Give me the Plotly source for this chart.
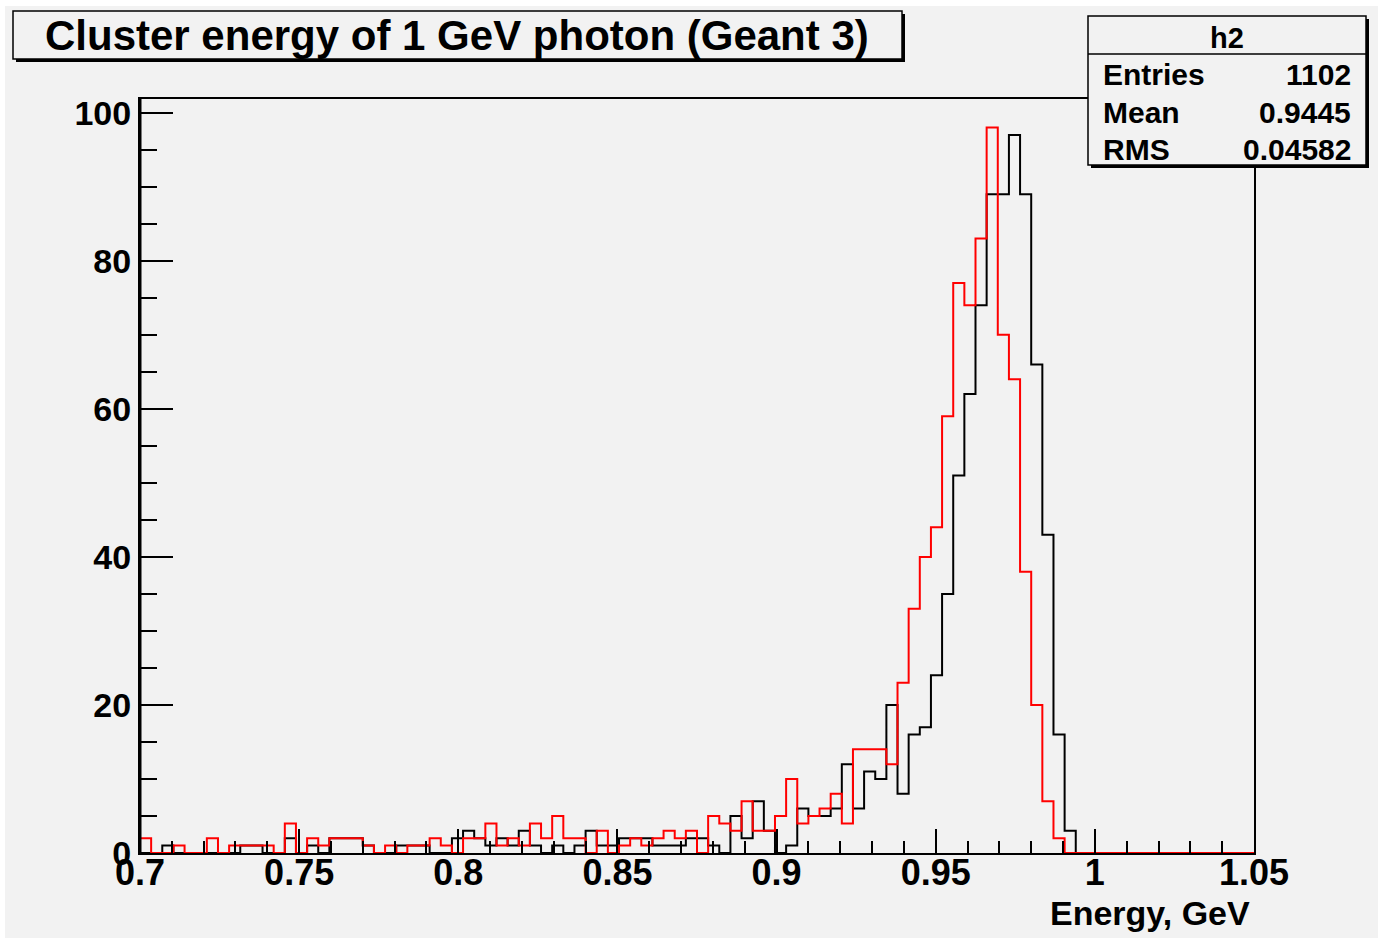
import numpy as np
import plotly.graph_objects as go

# ---- data ----
x_min, x_max, n_bins = 0.7, 1.05, 100

black_counts = [
    0, 0, 1, 0, 0, 0, 0, 0, 0, 1,
    1, 0, 0, 2, 0, 1, 0, 2, 2, 2,
    1, 0, 0, 1, 1, 1, 0, 0, 2, 3,
    2, 1, 2, 1, 3, 1, 0, 1, 0, 1,
    3, 1, 1, 2, 2, 2, 1, 1, 1, 2,
    2, 1, 0, 5, 2, 7, 3, 0, 1, 6,
    5, 5, 6, 12, 6, 11, 10, 20, 8, 16,
    17, 24, 35, 51, 62, 74, 89, 89, 97, 89,
    66, 43, 16, 3, 0, 0, 0, 0, 0, 0,
    0, 0, 0, 0, 0, 0, 0, 0, 0, 0,
]
red_counts = [
    2, 0, 0, 1, 0, 0, 2, 0, 1, 1,
    1, 1, 0, 4, 0, 2, 1, 2, 2, 2,
    1, 0, 1, 0, 1, 1, 2, 1, 0, 2,
    2, 4, 1, 2, 1, 4, 2, 5, 2, 2,
    0, 3, 0, 1, 2, 1, 2, 3, 2, 3,
    0, 5, 4, 3, 7, 3, 3, 5, 10, 4,
    5, 6, 8, 4, 14, 14, 14, 12, 23, 33,
    40, 44, 59, 77, 74, 83, 98, 70, 64, 38,
    20, 7, 2, 0, 0, 0, 0, 0, 0, 0,
    0, 0, 0, 0, 0, 0, 0, 0, 0, 0,
]

x_tick_vals = [0.7, 0.75, 0.8, 0.85, 0.9, 0.95, 1.0, 1.05]
x_tick_text = ["0.7", "0.75", "0.8", "0.85", "0.9", "0.95", "1", "1.05"]
y_tick_vals = [0, 20, 40, 60, 80, 100]
y_tick_text = ["0", "20", "40", "60", "80", "100"]

title_text = "Cluster energy of 1 GeV photon (Geant 3)"
x_title = "Energy, GeV"
stats_name = "h2"
stats_labels = ["Entries", "Mean", "RMS"]
stats_values = ["1102", "0.9445", "0.04582"]

# ---- layout geometry (pixels) ----
W, H = 1382, 942
L, R, T, B = 140, 1254, 99, 853
y_top = 101.85

def xp(px):
    return (px - L) / (R - L)

def yp(py):
    return (B - py) / (B - T)

edges = np.linspace(x_min, x_max, n_bins + 1)

def step_xy(counts):
    xs = list(edges)
    ys = list(counts) + [counts[-1]]
    return xs, ys

FONT = "Liberation Sans, Arial, Helvetica, sans-serif"
BG = "#f2f2f2"

fig = go.Figure()
bx, by = step_xy(black_counts)
rx, ry = step_xy(red_counts)
fig.add_trace(go.Scatter(x=bx, y=by, mode="lines", line=dict(color="black", width=2, shape="hv"),
                         showlegend=False, hoverinfo="skip"))
fig.add_trace(go.Scatter(x=rx, y=ry, mode="lines", line=dict(color="#ff0000", width=2, shape="hv"),
                         showlegend=False, hoverinfo="skip"))

shapes = []
# outer gray canvas with white border
shapes.append(dict(type="rect", xref="paper", yref="paper", layer="below",
                   x0=xp(5), x1=xp(1378), y0=yp(6), y1=yp(938),
                   fillcolor=BG, line=dict(width=0)))
# thick left axis line
shapes.append(dict(type="line", xref="paper", yref="paper", x0=0, x1=0, y0=0, y1=1,
                   line=dict(color="black", width=3)))

def box_with_shadow(x0, y0, x1, y1, off=3):
    shapes.append(dict(type="rect", xref="paper", yref="paper",
                       x0=xp(x0 + off), x1=xp(x1 + off), y0=yp(y0 + off), y1=yp(y1 + off),
                       fillcolor="black", line=dict(width=0)))
    shapes.append(dict(type="rect", xref="paper", yref="paper",
                       x0=xp(x0), x1=xp(x1), y0=yp(y0), y1=yp(y1),
                       fillcolor=BG, line=dict(color="black", width=1.5)))

box_with_shadow(13, 11, 902, 59)
box_with_shadow(1088, 16, 1366, 165)
shapes.append(dict(type="line", xref="paper", yref="paper",
                   x0=xp(1088), x1=xp(1366), y0=yp(54), y1=yp(54),
                   line=dict(color="black", width=1.5)))

annotations = []
annotations.append(dict(text="<b>%s</b>" % title_text, xref="paper", yref="paper",
                        x=xp(457), y=yp(35), xanchor="center", yanchor="middle",
                        showarrow=False, font=dict(family=FONT, size=42, color="black")))
annotations.append(dict(text="<b>%s</b>" % stats_name, xref="paper", yref="paper",
                        x=xp(1227), y=yp(38), xanchor="center", yanchor="middle",
                        showarrow=False, font=dict(family=FONT, size=29, color="black")))
row_y = [74, 112, 149]
for lab, val, yy in zip(stats_labels, stats_values, row_y):
    annotations.append(dict(text="<b>%s</b>" % lab, xref="paper", yref="paper",
                            x=xp(1101), y=yp(yy), xanchor="left", yanchor="middle",
                            showarrow=False, font=dict(family=FONT, size=30, color="black")))
    annotations.append(dict(text="<b>%s</b>" % val, xref="paper", yref="paper",
                            x=xp(1353), y=yp(yy), xanchor="right", yanchor="middle",
                            showarrow=False, font=dict(family=FONT, size=30, color="black")))
annotations.append(dict(text="<b>%s</b>" % x_title, xref="paper", yref="paper",
                        x=xp(1252), y=yp(913), xanchor="right", yanchor="middle",
                        showarrow=False, font=dict(family=FONT, size=34, color="black")))

fig.update_layout(
    width=W, height=H,
    margin=dict(l=L, r=W - R, t=T, b=H - B, pad=0),
    paper_bgcolor="white", plot_bgcolor=BG,
    shapes=shapes, annotations=annotations,
    xaxis=dict(range=[x_min, x_max], showgrid=False, zeroline=False,
               showline=True, linecolor="black", linewidth=2, mirror=True,
               ticks="inside", ticklen=24, tickwidth=2, tickcolor="black",
               tickvals=x_tick_vals, ticktext=["<b>%s</b>" % t for t in x_tick_text],
               tickfont=dict(family=FONT, size=36, color="black"),
               ticklabelstandoff=-13,
               minor=dict(dtick=0.01, tick0=0.7, ticks="inside", ticklen=12,
                          tickwidth=1.5, tickcolor="black", showgrid=False)),
    yaxis=dict(range=[0, y_top], showgrid=False, zeroline=False,
               showline=True, linecolor="black", linewidth=2, mirror=True,
               ticks="inside", ticklen=33, tickwidth=2, tickcolor="black",
               tickvals=y_tick_vals, ticktext=["<b>%s</b>" % t for t in y_tick_text],
               tickfont=dict(family=FONT, size=34, color="black"),
               minor=dict(dtick=5, tick0=0, ticks="inside", ticklen=17,
                          tickwidth=1.5, tickcolor="black", showgrid=False)),
)

fig.write_html("out.html", config={"displayModeBar": False},
               post_script="document.body.style.margin='0';")
